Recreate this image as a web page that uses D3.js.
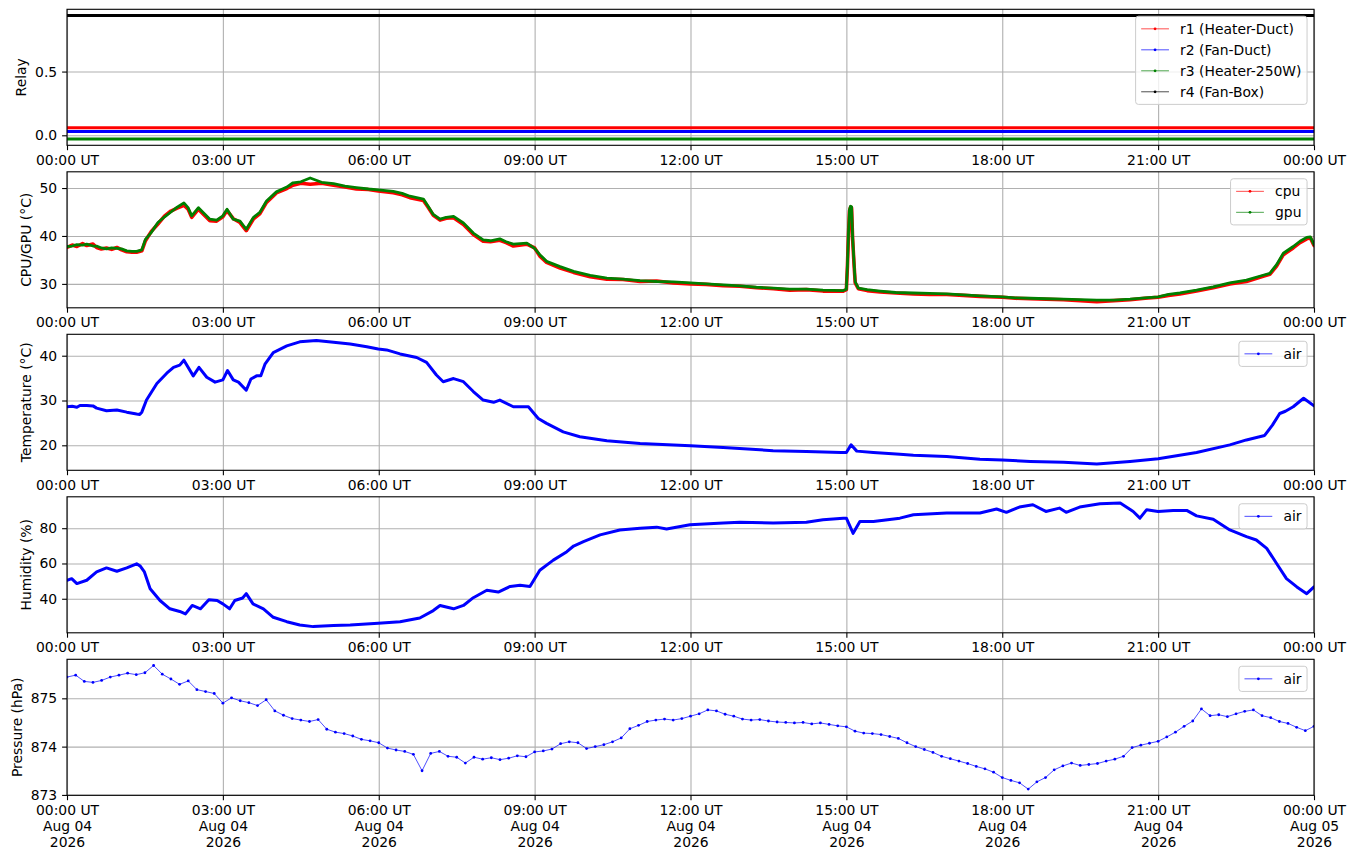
<!DOCTYPE html>
<html>
<head>
<meta charset="utf-8">
<script src="https://cdn.jsdelivr.net/npm/d3@7"></script>
<style>
  body { margin: 0; background: #fff; }
  svg text { font-family: "DejaVu Sans", sans-serif; }
</style>
</head>
<body>
<div id="app"></div>
<script>
// ---- data (hours since 2026-08-04 00:00 UT, value) ----
const relayNames = ["r1 (Heater-Duct)", "r2 (Fan-Duct)", "r3 (Heater-250W)", "r4 (Fan-Box)"];
const relayLevels = [0.06, 0.03, -0.03, 0.94];
const relaySpan = [0, 24];

const cpu = [[0,37.6],[0.1,38.1],[0.19,37.8],[0.3,38.4],[0.38,38.0],[0.5,38.3],[0.57,37.6],[0.66,37.3],[0.76,37.5],[0.86,37.2],[0.96,37.6],[1.05,37.1],[1.15,36.7],[1.25,36.6],[1.34,36.6],[1.44,36.9],[1.51,39.0],[1.62,40.9],[1.75,42.5],[1.88,44.2],[2.0,45.2],[2.12,45.8],[2.25,46.4],[2.33,45.6],[2.40,43.9],[2.53,45.6],[2.62,44.6],[2.75,43.2],[2.88,43.1],[3.0,44.0],[3.08,45.3],[3.2,43.6],[3.33,42.8],[3.45,41.1],[3.59,43.6],[3.71,44.6],[3.84,47.0],[4.03,49.0],[4.23,49.9],[4.35,50.6],[4.5,51.0],[4.68,50.8],[4.9,51.0],[5.13,50.6],[5.35,50.2],[5.57,49.8],[5.8,49.7],[5.99,49.4],[6.28,49.0],[6.45,48.6],[6.6,48.0],[6.86,47.4],[6.95,46.0],[7.05,44.3],[7.18,43.3],[7.3,43.7],[7.44,43.8],[7.63,42.4],[7.82,40.3],[8.01,38.9],[8.15,38.8],[8.33,39.1],[8.45,38.6],[8.59,37.9],[8.85,38.3],[9.0,37.5],[9.1,35.8],[9.23,34.5],[9.49,33.3],[9.75,32.4],[10.07,31.5],[10.39,31.0],[10.7,30.9],[11.03,30.5],[11.35,30.6],[11.67,30.2],[12.0,30.0],[12.3,29.9],[12.63,29.6],[12.95,29.5],[13.27,29.2],[13.6,29.0],[13.91,28.7],[14.23,28.8],[14.55,28.5],[14.94,28.5],[15.0,28.8],[15.02,33.6],[15.04,40.2],[15.06,45.2],[15.08,46.0],[15.1,45.9],[15.12,39.5],[15.15,33.6],[15.17,30.2],[15.23,29.0],[15.4,28.6],[15.65,28.3],[15.95,28.1],[16.29,27.9],[16.6,27.8],[16.93,27.8],[17.25,27.6],[17.57,27.4],[18.0,27.2],[18.25,27.0],[18.54,26.9],[18.85,26.8],[19.18,26.7],[19.5,26.5],[19.82,26.3],[20.15,26.5],[20.46,26.7],[20.75,27.0],[21.0,27.2],[21.2,27.6],[21.42,27.9],[21.74,28.5],[22.06,29.2],[22.38,30.0],[22.70,30.5],[23.02,31.6],[23.15,32.0],[23.28,33.7],[23.41,36.1],[23.60,37.5],[23.73,38.6],[23.86,39.4],[23.93,39.6],[24.0,38.0]];

const gpu = [[0,37.8],[0.1,37.9],[0.19,38.2],[0.3,38.1],[0.38,38.3],[0.5,37.9],[0.57,37.9],[0.66,37.5],[0.76,37.3],[0.86,37.5],[0.96,37.4],[1.05,37.3],[1.15,36.9],[1.25,36.8],[1.34,36.8],[1.44,37.1],[1.51,39.3],[1.62,40.7],[1.75,42.8],[1.88,44.0],[2.0,45.0],[2.12,46.0],[2.25,46.9],[2.33,45.9],[2.40,44.2],[2.53,45.9],[2.62,44.9],[2.75,43.5],[2.88,43.3],[3.0,44.2],[3.08,45.6],[3.2,43.5],[3.33,43.1],[3.45,41.4],[3.59,43.9],[3.71,44.9],[3.84,47.3],[4.03,49.2],[4.23,50.2],[4.35,51.1],[4.5,51.3],[4.68,52.1],[4.9,51.2],[5.13,50.9],[5.35,50.4],[5.57,50.1],[5.8,49.8],[5.99,49.6],[6.28,49.3],[6.45,48.9],[6.6,48.3],[6.86,47.7],[6.95,46.2],[7.05,44.5],[7.18,43.5],[7.3,43.9],[7.44,44.1],[7.63,42.7],[7.82,40.6],[8.01,39.2],[8.15,39.0],[8.33,39.4],[8.45,38.8],[8.59,38.3],[8.85,38.5],[9.0,37.4],[9.1,36.1],[9.23,34.7],[9.49,33.6],[9.75,32.6],[10.07,31.8],[10.39,31.2],[10.7,31.0],[11.03,30.7],[11.35,30.5],[11.67,30.4],[12.0,30.2],[12.3,30.0],[12.63,29.8],[12.95,29.6],[13.27,29.3],[13.6,29.1],[13.91,28.9],[14.23,28.9],[14.55,28.7],[14.94,28.6],[15.0,28.9],[15.02,33.9],[15.04,40.5],[15.06,45.5],[15.08,46.2],[15.1,46.1],[15.12,39.8],[15.15,33.9],[15.17,30.4],[15.23,29.1],[15.4,28.8],[15.65,28.5],[15.95,28.2],[16.29,28.1],[16.6,28.0],[16.93,27.9],[17.25,27.7],[17.57,27.5],[18.0,27.3],[18.25,27.1],[18.54,27.0],[18.85,26.9],[19.18,26.8],[19.5,26.7],[19.82,26.6],[20.15,26.6],[20.46,26.8],[20.75,27.1],[21.0,27.3],[21.2,27.8],[21.42,28.1],[21.74,28.7],[22.06,29.4],[22.38,30.2],[22.70,30.8],[23.02,31.8],[23.15,32.2],[23.28,34.0],[23.41,36.4],[23.60,37.8],[23.73,38.9],[23.86,39.7],[23.93,39.8],[24.0,38.2]];

const airTemp = [[0,28.6],[0.1,28.7],[0.19,28.5],[0.25,28.9],[0.38,28.9],[0.5,28.8],[0.57,28.3],[0.76,27.7],[0.96,27.9],[1.15,27.4],[1.34,27.0],[1.40,26.9],[1.44,27.4],[1.53,30.1],[1.73,33.8],[1.92,36.1],[2.05,37.4],[2.17,37.9],[2.25,39.0],[2.43,35.5],[2.54,37.4],[2.69,35.2],[2.85,34.1],[3.0,34.6],[3.09,36.7],[3.2,34.6],[3.3,34.1],[3.45,32.3],[3.54,34.8],[3.65,35.5],[3.73,35.5],[3.81,38.1],[3.97,40.7],[4.23,42.2],[4.48,43.1],[4.8,43.4],[5.13,43.0],[5.45,42.6],[5.77,42.0],[5.99,41.5],[6.15,41.3],[6.41,40.4],[6.73,39.6],[6.92,38.5],[7.11,35.7],[7.24,34.2],[7.44,34.9],[7.63,34.2],[7.82,32.0],[8.01,30.1],[8.21,29.6],[8.33,30.1],[8.59,28.6],[8.88,28.6],[9.07,26.0],[9.23,24.9],[9.55,23.0],[9.87,21.9],[10.39,21.0],[11.03,20.4],[12.0,19.9],[12.63,19.5],[13.59,18.8],[14.23,18.6],[14.9,18.4],[15.0,18.4],[15.09,20.1],[15.2,18.7],[15.52,18.4],[16.03,18.0],[16.29,17.8],[16.93,17.5],[17.57,16.9],[18.0,16.7],[18.54,16.4],[19.18,16.2],[19.82,15.8],[20.46,16.4],[21.0,17.0],[21.74,18.4],[22.38,20.1],[22.70,21.2],[23.05,22.2],[23.2,24.5],[23.34,27.1],[23.45,27.6],[23.60,28.6],[23.80,30.5],[24.0,28.8]];

const airHumidity = [[0,50.5],[0.09,51.4],[0.19,48.6],[0.38,50.5],[0.57,55.2],[0.76,57.5],[0.96,55.6],[1.15,57.5],[1.34,59.8],[1.41,58.5],[1.49,55.2],[1.6,45.7],[1.79,39.0],[1.98,34.3],[2.17,32.8],[2.28,31.4],[2.41,36.2],[2.57,34.3],[2.73,39.4],[2.89,39.0],[3.0,37.1],[3.13,34.3],[3.23,39.0],[3.38,40.4],[3.45,42.9],[3.58,37.1],[3.78,34.3],[3.97,29.5],[4.23,27.0],[4.48,25.1],[4.74,24.2],[5.13,24.8],[5.45,25.1],[5.99,26.1],[6.41,27.0],[6.79,29.1],[7.05,33.3],[7.18,36.2],[7.44,34.3],[7.63,36.2],[7.82,40.6],[8.08,44.8],[8.30,43.8],[8.53,47.0],[8.72,47.6],[8.91,47.0],[9.10,56.2],[9.36,61.9],[9.62,66.7],[9.75,69.9],[9.94,72.4],[10.26,76.2],[10.64,79.0],[11.03,80.0],[11.35,80.6],[11.54,79.6],[11.99,81.9],[12.63,82.9],[12.95,83.4],[13.59,82.9],[14.23,83.4],[14.55,84.8],[14.94,85.7],[15.0,85.7],[15.13,77.1],[15.26,83.8],[15.52,83.8],[16.03,85.7],[16.29,87.6],[16.93,88.6],[17.57,88.6],[17.89,90.9],[18.08,89.0],[18.33,92.0],[18.59,93.3],[18.84,89.5],[19.1,91.4],[19.23,89.0],[19.49,92.0],[19.88,93.9],[20.27,94.3],[20.52,89.5],[20.65,85.7],[20.78,90.5],[21.0,89.5],[21.29,90.1],[21.55,90.1],[21.74,87.0],[22.06,85.1],[22.38,79.0],[22.70,75.2],[22.89,73.3],[23.09,68.6],[23.28,60.0],[23.47,51.4],[23.67,46.7],[23.86,42.9],[24.0,46.7]];

// pressure, one reading every 10 minutes, one row per hour
const pressureStep = 1 / 6;
const airPressure = [
  875.44, 875.48, 875.35, 875.33, 875.37, 875.44,
  875.48, 875.52, 875.49, 875.53, 875.68, 875.50,
  875.40, 875.29, 875.36, 875.18, 875.14, 875.10,
  874.90, 875.01, 874.95, 874.91, 874.85, 874.97,
  874.74, 874.65, 874.58, 874.55, 874.52, 874.56,
  874.36, 874.30, 874.27, 874.22, 874.15, 874.12,
  874.08, 873.97, 873.93, 873.90, 873.84, 873.50,
  873.86, 873.90, 873.80, 873.78, 873.66, 873.78,
  873.74, 873.77, 873.73, 873.76, 873.81, 873.79,
  873.89, 873.91, 873.95, 874.06, 874.10, 874.08,
  873.96, 874.00, 874.04, 874.10, 874.18, 874.37,
  874.44, 874.52, 874.55, 874.57, 874.55, 874.58,
  874.63, 874.68, 874.76, 874.74, 874.67, 874.63,
  874.57, 874.55, 874.56, 874.53, 874.51, 874.50,
  874.49, 874.50, 874.47, 874.49, 874.46, 874.43,
  874.41, 874.32, 874.28, 874.27, 874.25, 874.21,
  874.17, 874.08, 874.00, 873.94, 873.88, 873.80,
  873.75, 873.70, 873.65, 873.59, 873.54, 873.47,
  873.36, 873.30, 873.25, 873.12, 873.27, 873.36,
  873.52, 873.60, 873.66, 873.61, 873.63, 873.65,
  873.70, 873.74, 873.80, 873.98, 874.03, 874.07,
  874.11, 874.20, 874.30, 874.42, 874.53, 874.78,
  874.64, 874.66, 874.62, 874.68, 874.73, 874.76,
  874.64, 874.60, 874.52, 874.48, 874.40, 874.33,
  874.42
];

// ---- layout ----
const W = 1355, H = 861;
const FS = 13.9;
const LEFT = 67, RIGHT = 1314;
const TOP0 = 9.3, PH = 136, STEP = 162.5;
const GRID = "#b0b0b0";

const t0 = Date.UTC(2026, 7, 4);
const toDate = h => new Date(t0 + h * 3600e3);
const x = d3.scaleUtc().domain([toDate(0), toDate(24)]).range([LEFT, RIGHT]);
const every3h = d3.utcHour.every(3);

const relaySeries = relayLevels.map(v => relaySpan.map(h => [h, v]));
const pressureSeries = airPressure.map((v, i) => [i * pressureStep, v]);

const panels = [
  { label: "Relay", fmt: d3.format(".1f"), series: [
      { name: relayNames[0], data: relaySeries[0], color: "#ff0000", width: 3 },
      { name: relayNames[1], data: relaySeries[1], color: "#0000ff", width: 3 },
      { name: relayNames[2], data: relaySeries[2], color: "#008000", width: 3 },
      { name: relayNames[3], data: relaySeries[3], color: "#000000", width: 3 }] },
  { label: "CPU/GPU (°C)", fmt: d3.format("d"), series: [
      { name: "cpu", data: cpu, color: "#ff0000", width: 3.6 },
      { name: "gpu", data: gpu, color: "#008000", width: 2.8 }] },
  { label: "Temperature (°C)", fmt: d3.format("d"), series: [
      { name: "air", data: airTemp, color: "#0000ff", width: 3 }] },
  { label: "Humidity (%)", fmt: d3.format("d"), series: [
      { name: "air", data: airHumidity, color: "#0000ff", width: 3 }] },
  { label: "Pressure (hPa)", fmt: d3.format("d"), dots: true, series: [
      { name: "air", data: pressureSeries, color: "#0000ff", width: 0.7 }] }
];

const svg = d3.select("#app").append("svg")
    .attr("width", W)
    .attr("height", H)
    .attr("viewBox", [0, 0, W, H]);

// matplotlib-like autoscale: data extent plus 5% on each side
function padExtent(vals) {
  const [a, b] = d3.extent(vals);
  const m = (b - a) * 0.05;
  return [a - m, b + m];
}

panels.forEach((p, i) => {
  const top = TOP0 + i * STEP, bottom = top + PH;
  const allVals = p.series.flatMap(s => s.data.map(d => d[1]));
  const y = d3.scaleLinear().domain(padExtent(allVals)).range([bottom, top]);
  const g = svg.append("g");

  const clipId = "clip" + i;
  svg.append("clipPath").attr("id", clipId)
    .append("rect").attr("x", LEFT).attr("y", top).attr("width", RIGHT - LEFT).attr("height", PH);

  // grid
  g.append("g")
      .attr("transform", `translate(0,${bottom})`)
      .call(d3.axisBottom(x).ticks(every3h).tickSize(-PH).tickFormat(""))
      .call(s => s.select(".domain").remove())
      .call(s => s.selectAll("line").attr("stroke", GRID).attr("stroke-width", 1.1));
  g.append("g")
      .attr("transform", `translate(${LEFT},0)`)
      .call(d3.axisLeft(y).ticks(3).tickSize(-(RIGHT - LEFT)).tickFormat(""))
      .call(s => s.select(".domain").remove())
      .call(s => s.selectAll("line").attr("stroke", GRID).attr("stroke-width", 1.1));

  // series
  const line = d3.line().x(d => x(toDate(d[0]))).y(d => y(d[1]));
  const plot = g.append("g").attr("clip-path", `url(#${clipId})`);
  p.series.forEach(s => {
    plot.append("path")
        .attr("d", line(s.data))
        .attr("fill", "none")
        .attr("stroke", s.color)
        .attr("stroke-width", s.width)
        .attr("stroke-linejoin", "round")
        .attr("stroke-linecap", "round");
    if (p.dots) {
      plot.append("g").selectAll("circle")
        .data(s.data)
        .join("circle")
          .attr("cx", d => x(toDate(d[0])))
          .attr("cy", d => y(d[1]))
          .attr("r", 1.4)
          .attr("fill", s.color);
    }
  });

  // frame
  g.append("rect")
      .attr("x", LEFT).attr("y", top)
      .attr("width", RIGHT - LEFT).attr("height", PH)
      .attr("fill", "none").attr("stroke", "#000").attr("stroke-width", 1.1);

  // x axis
  const last = i === panels.length - 1;
  const xa = g.append("g")
      .attr("transform", `translate(0,${bottom})`)
      .call(d3.axisBottom(x).ticks(every3h).tickSize(4.9).tickPadding(4.9)
        .tickFormat(d3.utcFormat("%H:%M UT")));
  xa.select(".domain").remove();
  xa.selectAll("line").attr("stroke", "#000").attr("stroke-width", 1.1);
  xa.selectAll("text").attr("font-size", FS).attr("fill", "#000")
      .attr("font-family", "DejaVu Sans, sans-serif");
  if (last) {
    xa.selectAll("text").each(function(d) {
      const t = d3.select(this).text("");
      [d3.utcFormat("%H:%M UT")(d), d3.utcFormat("%b %d")(d), d3.utcFormat("%Y")(d)]
        .forEach((s, k) => t.append("tspan").attr("x", 0).attr("dy", k === 0 ? "0.71em" : "1.17em").text(s));
    }).attr("dy", null);
  }

  // y axis
  const ya = g.append("g")
      .attr("transform", `translate(${LEFT},0)`)
      .call(d3.axisLeft(y).ticks(3).tickSize(4.9).tickPadding(4.9).tickFormat(p.fmt));
  ya.select(".domain").remove();
  ya.selectAll("line").attr("stroke", "#000").attr("stroke-width", 1.1);
  ya.selectAll("text").attr("font-size", FS).attr("fill", "#000")
      .attr("font-family", "DejaVu Sans, sans-serif");
  const bb = ya.node().getBBox();
  const labelX = LEFT + bb.x - 5.6 - 3.3;
  g.append("text")
      .attr("transform", `translate(${labelX},${(top + bottom) / 2}) rotate(-90)`)
      .attr("text-anchor", "middle")
      .attr("font-size", FS)
      .attr("fill", "#000")
      .text(p.label);

  // legend (upper right)
  const pad = 0.4 * FS, rowH = FS * 1.01, gapY = 0.5 * FS;
  const handleL = 2 * FS, handleGap = 0.8 * FS;
  const lg = g.append("g");
  const box = lg.append("rect");
  const texts = p.series.map((s, k) => {
    const cy = pad + rowH / 2 + k * (rowH + gapY);
    lg.append("line")
        .attr("x1", pad).attr("x2", pad + handleL)
        .attr("y1", cy).attr("y2", cy)
        .attr("stroke", s.color).attr("stroke-width", 0.7);
    lg.append("circle")
        .attr("cx", pad + handleL / 2).attr("cy", cy).attr("r", 1.4)
        .attr("fill", s.color);
    return lg.append("text")
        .attr("x", pad + handleL + handleGap).attr("y", cy)
        .attr("dy", "0.36em")
        .attr("font-size", FS).attr("fill", "#000")
        .text(s.name);
  });
  const tw = d3.max(texts, t => t.node().getComputedTextLength());
  const bw = pad + handleL + handleGap + tw + pad;
  const bh = 2 * pad + p.series.length * rowH + (p.series.length - 1) * gapY;
  box.attr("width", bw).attr("height", bh).attr("rx", 2.8)
      .attr("fill", "#fff").attr("fill-opacity", 0.8)
      .attr("stroke", "#cccccc").attr("stroke-width", 1);
  lg.attr("transform", `translate(${RIGHT - 0.5 * FS - bw},${top + 0.5 * FS})`);
});
</script>
</body>
</html>
